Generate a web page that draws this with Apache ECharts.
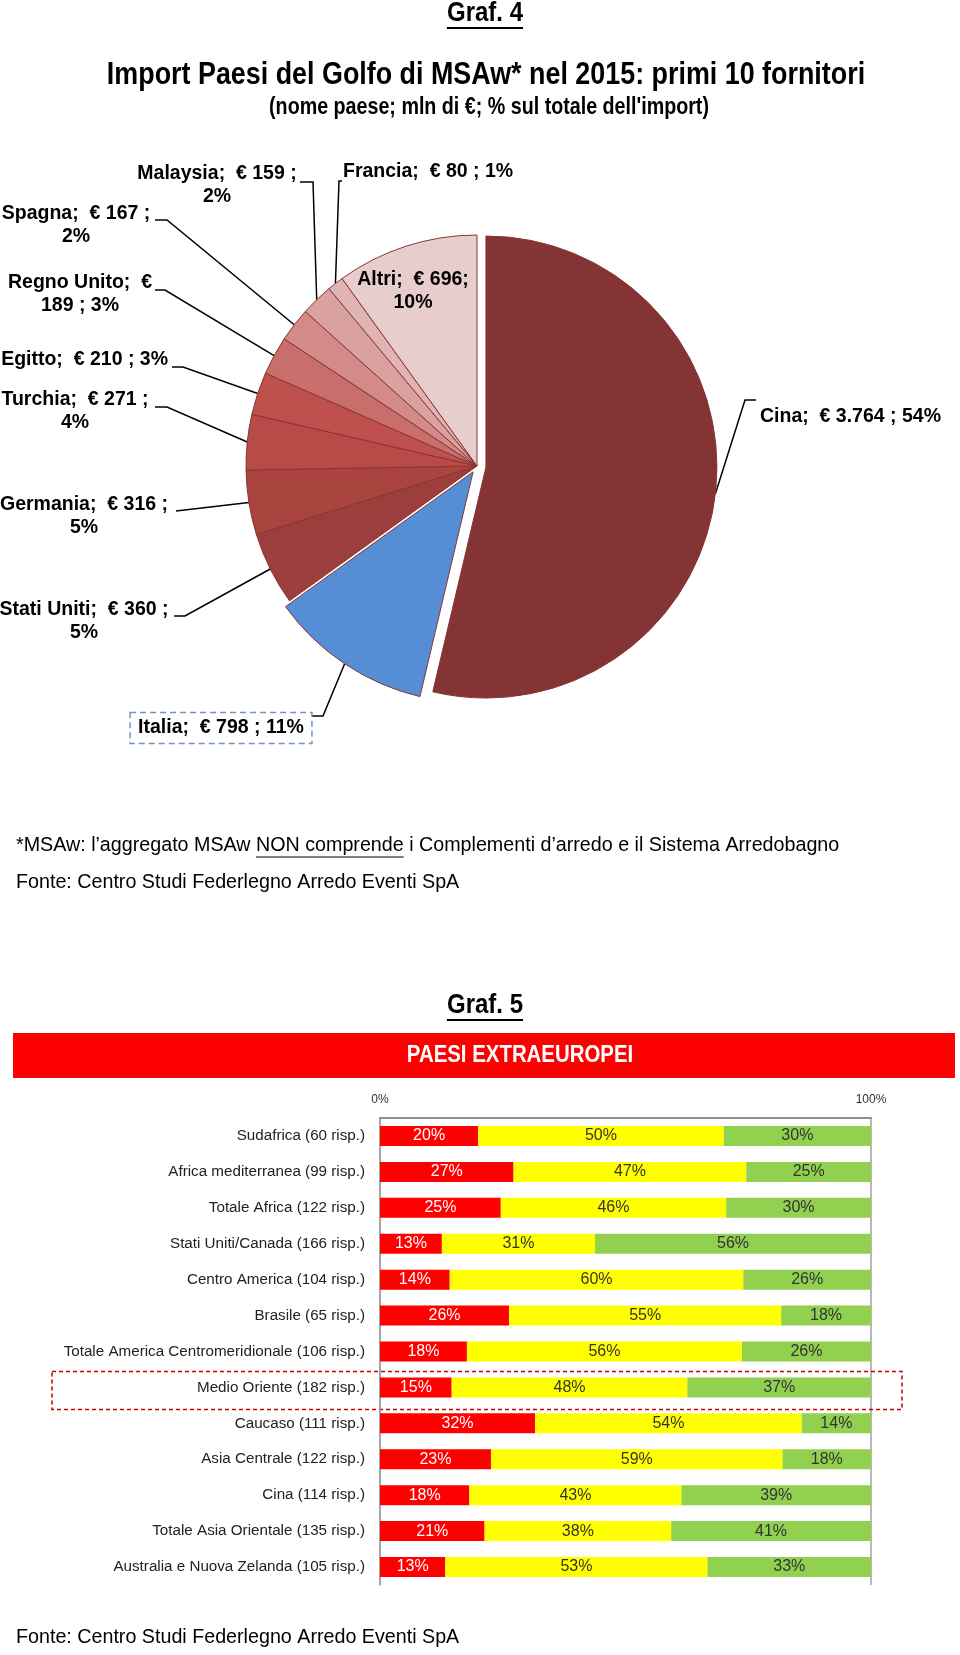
<!DOCTYPE html>
<html><head><meta charset="utf-8">
<script src="https://cdn.jsdelivr.net/npm/echarts@6/dist/echarts.min.js"></script>
<style>html,body{margin:0;padding:0;background:#fff}#c{width:960px;height:1655px}</style>
</head><body><div id="c"></div>
<script>
// ---------- Graf. 4 data (mln di €) ----------
const pieCountries = ['Cina','Italia','Stati Uniti','Germania','Turchia','Egitto','Regno Unito','Spagna','Malaysia','Francia','Altri'];
const pieValues    = [3764, 798, 360, 316, 271, 210, 189, 167, 159, 80, 696];

// ---------- Graf. 5 data (% of answers) ----------
const barCategories = [
  'Sudafrica (60 risp.)','Africa mediterranea (99 risp.)','Totale Africa (122 risp.)',
  'Stati Uniti/Canada (166 risp.)','Centro America (104 risp.)','Brasile (65 risp.)',
  'Totale America Centromeridionale (106 risp.)','Medio Oriente (182 risp.)','Caucaso (111 risp.)',
  'Asia Centrale (122 risp.)','Cina (114 risp.)','Totale Asia Orientale (135 risp.)',
  'Australia e Nuova Zelanda (105 risp.)'
];
const redShare    = [20, 27.2, 24.6, 12.6, 14.2, 26.3, 17.7, 14.6, 31.6, 22.6, 18.2, 21.3, 13.3];
const yellowShare = [50, 47.4, 45.9, 31.2, 59.8, 55.4, 56.0, 48.0, 54.3, 59.4, 43.2, 38.0, 53.4];
const greenShare  = [30, 25.4, 29.5, 56.2, 26.0, 18.3, 26.3, 37.4, 14.1, 18.0, 38.6, 40.7, 33.3];
const xTickValues = [0, 100];
const highlightedCategory = 'Medio Oriente (182 risp.)';

// ---------- styles / layout (kept apart from data) ----------
const SANS = "'Liberation Sans',Arial,sans-serif";
const pieColors = ['#843434','#558ed5','#9b3e3c','#a9443f','#b84b48','#c0504d','#c86e6b','#d28b89','#d9a2a0','#e0b4b3','#e8cdcd'];
const pieLabelTemplates = [
  '{n};  € {v} ; {p}%', '{n};  € {v} ; {p}%', '{n};  € {v} ;\n{p}%', '{n};  € {v} ;\n{p}%',
  '{n};  € {v} ;\n{p}%', '{n};  € {v} ; {p}%', '{n};  €\n{v} ; {p}%', '{n};  € {v} ;\n{p}%',
  '{n};  € {v} ;\n{p}%', '{n};  € {v} ; {p}%', '{n};  € {v};\n{p}%'
];
// label anchor [x, y, align] and leader-line bend points (page pixels)
const pieLabelPos = [
  [760, 417, 'left',   [[745,400],[756,400]]],
  [221, 728, 'center', [[323,716],[312,716]]],
  [ 84, 621, 'center', [[185,616],[174,616]]],
  [ 84, 516, 'center', [[176,511]]],
  [ 75, 411, 'center', [[167,407],[155,407]]],
  [168, 360, 'right',  [[183,367],[172,367]]],
  [ 80, 294, 'center', [[165,290],[155,290]]],
  [ 76, 225, 'center', [[167,220],[155,220]]],
  [217, 185, 'center', [[313,182],[300,182]]],
  [343, 172, 'left',   [[339,181],[342,181]]],
  [413, 291, 'center', null]
];
const PIE_CENTER = [477, 466];
const PIE_R = 231;
// exploded slices: data index -> offset (px)
const explode = {0: 9, 1: 7};

function itNum(v){ return String(v).replace(/\B(?=(\d{3})+(?!\d))/g, '.'); }

const chart = echarts.init(document.getElementById('c'), null, {renderer:'canvas'});

function edgePoint(seriesIndex, i){
  const L = chart.getModel().getSeriesByIndex(seriesIndex).getData().getItemLayout(i);
  const mid = (L.startAngle + L.endAngle) / 2;
  return [L.cx + L.r*Math.cos(mid), L.cy + L.r*Math.sin(mid)];
}
function midAngle(seriesIndex, i){
  const L = chart.getModel().getSeriesByIndex(seriesIndex).getData().getItemLayout(i);
  return (L.startAngle + L.endAngle) / 2;
}

const measureCtx = document.createElement('canvas').getContext('2d');
function textW(font, s){ measureCtx.font = font; return measureCtx.measureText(s).width; }

// pie series showing only the slices in `visible`
function pieSeries(id, visible, center){
  return {
    id:id, type:'pie', center:center, radius:[0,PIE_R], startAngle:90, clockwise:true,
    avoidLabelOverlap:false, silent:true, selectedMode:false,
    emphasis:{disabled:true},
    itemStyle:{borderColor:'#8a3434', borderWidth:1},
    data: pieCountries.map((n,i)=>{
      const show = visible.indexOf(i) >= 0;
      const d = {name:n, value:pieValues[i]};
      if (!show) {
        d.itemStyle = {color:'rgba(0,0,0,0)', borderWidth:0};
        d.label = {show:false}; d.labelLine = {show:false};
      } else {
        d.itemStyle = {color:pieColors[i]};
        if (i === 1) d.label = {borderColor:'#7394bf', borderType:[6,4], borderWidth:1.5, padding:[4,8,4,8]};
        if (i === pieCountries.length-1) d.labelLine = {show:false};
      }
      return d;
    }),
    label:{
      show:true, position:'outside', fontFamily:SANS, fontWeight:'bold', fontSize:19.5, lineHeight:23, color:'#000',
      formatter: p => pieLabelTemplates[p.dataIndex]
          .replace('{n}', p.name).replace('{v}', itNum(p.value)).replace('{p}', Math.round(p.percent))
    },
    labelLine:{show:true, length:10, length2:10, smooth:false, lineStyle:{color:'#000', width:1.5}},
    labelLayout: function(params){
      const i = params.dataIndex;
      const pos = pieLabelPos[i];
      const out = {x:pos[0], y:pos[1], align:pos[2], verticalAlign:'middle'};
      if (pos[3]) {
        const pts = [edgePoint(params.seriesIndex, i)].concat(pos[3]);
        while (pts.length < 3) pts.push(pts[pts.length-1].slice());
        out.labelLinePoints = pts;
      }
      return out;
    }
  };
}

const stackLabel = (color) => ({
  show:true, position:'inside', color:color, fontFamily:SANS, fontSize:16,
  formatter: p => Math.round(p.value) + '%'
});

const others = pieCountries.map((n,i)=>i).filter(i => explode[i] == null);

const option = {
  animation:false,
  backgroundColor:'#ffffff',
  grid:{left:380, right:89, top:1118, height:467, containLabel:false},
  xAxis:{
    type:'value', position:'top', min:xTickValues[0], max:xTickValues[1], interval:100,
    axisLine:{show:true, lineStyle:{color:'#8f8f8f', width:2}},
    axisTick:{show:false},
    axisLabel:{formatter:'{value}%', fontFamily:SANS, fontSize:12, color:'#333', margin:12},
    splitLine:{show:true, lineStyle:{color:'#a0a0a0', width:1.5}}
  },
  yAxis:{
    type:'category', inverse:true, data:barCategories,
    axisLine:{show:true, lineStyle:{color:'#a0a0a0', width:1.5}},
    axisTick:{show:false},
    axisLabel:{margin:15, fontFamily:SANS, fontSize:15.2, color:'#222'}
  },
  series:[
    pieSeries('pieBase', others, PIE_CENTER),
    {type:'bar', name:'rosso', stack:'t', data:redShare, barWidth:20, itemStyle:{color:'#ff0000'}, label:stackLabel('#ffffff'), silent:true},
    {type:'bar', name:'giallo', stack:'t', data:yellowShare, barWidth:20, itemStyle:{color:'#ffff00'}, label:stackLabel('#333333'), silent:true},
    {type:'bar', name:'verde', stack:'t', data:greenShare, barWidth:20, itemStyle:{color:'#92d050'}, label:stackLabel('#333333'), silent:true}
  ]
};
chart.setOption(option);

// exploded slices: same pie, centre pushed out along the slice's mid angle (from the library layout)
const extra = Object.keys(explode).map(k => {
  const i = +k;
  const a = midAngle(0, i);
  return pieSeries('pieX' + i, [i], [PIE_CENTER[0] + explode[k]*Math.cos(a), PIE_CENTER[1] + explode[k]*Math.sin(a)]);
});
chart.setOption({series: option.series.concat(extra)});

// ---------- texts & decorations ----------
const g4Font = 'bold 27px ' + SANS, g4S = 0.89;
const g4W = textW(g4Font, 'Graf. 4') * g4S;
const g5W = textW(g4Font, 'Graf. 5') * g4S;
const titleFont = 'bold 32px ' + SANS;
const subFont = 'bold 24px ' + SANS;
const noteFont = '19.7px ' + SANS;
const notePre = '*MSAw: l’aggregato MSAw ';
const noteU = 'NON comprende';
const notePost = ' i Complementi d’arredo e il Sistema Arredobagno';
const preW = textW(noteFont, notePre), uW = textW(noteFont, noteU);
const yMO = chart.convertToPixel({yAxisIndex:0}, highlightedCategory);

const gtext = (x,y,text,font,align,fill,sx) => ({type:'text', silent:true, x:x, y:y, scaleX:sx||1,
  style:{x:0, y:0, text:text, font:font, textAlign:align||'left', textVerticalAlign:'middle', fill:fill||'#000'}});
const gline = (x1,y1,x2,y2,color,w,dash) => ({type:'line', silent:true, shape:{x1:x1,y1:y1,x2:x2,y2:y2}, style:{stroke:color, lineWidth:w, lineDash:dash||null}});

chart.setOption({
  graphic:[
    gtext(485, 14, 'Graf. 4', g4Font, 'center', '#000', g4S),
    gline(485-g4W/2, 28, 485+g4W/2, 28, '#000', 2),
    gtext(486, 75, 'Import Paesi del Golfo di MSAw* nel 2015: primi 10 fornitori', titleFont, 'center', '#000', 0.84),
    gtext(489, 107, '(nome paese; mln di €; % sul totale dell\'import)', subFont, 'center', '#000', 0.82),
    gtext(16, 846, notePre + noteU + notePost, noteFont, 'left'),
    gline(16+preW, 857, 16+preW+uW, 857, '#000', 1.2),
    gtext(16, 883, 'Fonte: Centro Studi Federlegno Arredo Eventi SpA', noteFont, 'left'),
    gtext(485, 1006, 'Graf. 5', g4Font, 'center', '#000', g4S),
    gline(485-g5W/2, 1020, 485+g5W/2, 1020, '#000', 2),
    {type:'rect', silent:true, shape:{x:13, y:1033, width:942, height:45}, style:{fill:'#ff0000'}},
    gtext(520, 1055, 'PAESI EXTRAEUROPEI', 'bold 24px ' + SANS, 'center', '#ffffff', 0.85),
    {type:'rect', silent:true, shape:{x:52, y:yMO-16, width:850, height:38}, style:{fill:null, stroke:'#c00000', lineWidth:1.5, lineDash:[4,3]}},
    gtext(16, 1638, 'Fonte: Centro Studi Federlegno Arredo Eventi SpA', noteFont, 'left')
  ]
});
</script>
</body></html>
